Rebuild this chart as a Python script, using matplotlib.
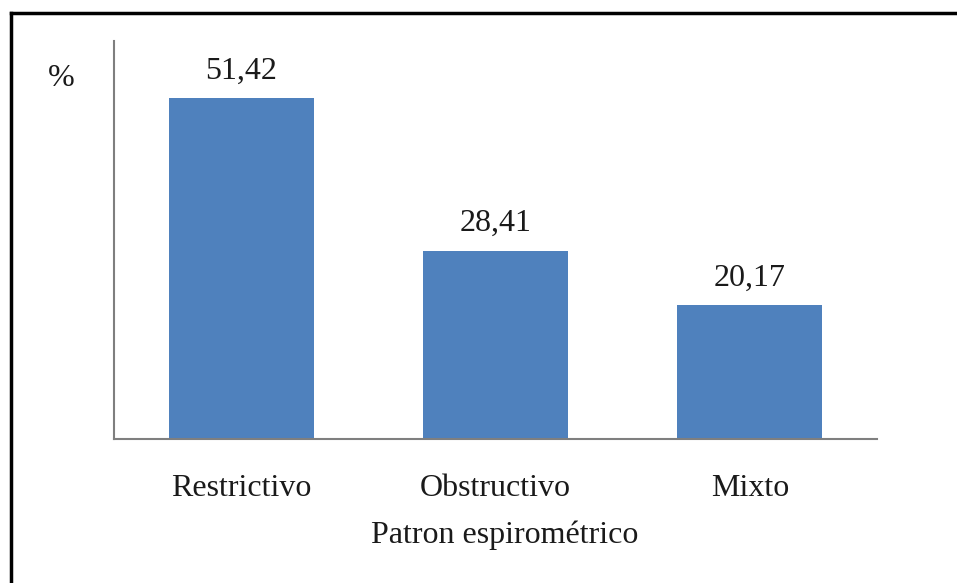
import matplotlib.pyplot as plt
from matplotlib.lines import Line2D

categories = ["Restrictivo", "Obstructivo", "Mixto"]
percentages = [51.42, 28.41, 20.17]

plt.rcParams['font.family'] = ['Liberation Serif', 'DejaVu Serif']

fig = plt.figure(figsize=(9.57, 5.83), dpi=100)
ax = fig.add_axes([0.1191, 0.247, 0.7973, 0.6827])

bars = ax.bar(categories, percentages, width=0.57, color="#4F81BD")
ax.bar_label(bars, labels=[f"{v:.2f}".replace(".", ",") for v in percentages],
             padding=9, fontsize=23, color="#1a1a1a")

ax.set_xlim(-0.5, 2.5)
ax.set_ylim(0, 60)
ax.set_yticks([])
ax.tick_params(axis="x", length=0, pad=25, labelsize=23, labelcolor="#1a1a1a")
for side in ("top", "right"):
    ax.spines[side].set_visible(False)
for side in ("left", "bottom"):
    ax.spines[side].set_color("#7f7f7f")
    ax.spines[side].set_linewidth(1.5)

ax.set_xlabel("Patron espirométrico", fontsize=23, color="#1a1a1a")
ax.xaxis.set_label_coords(0.512, -0.243)
ax.xaxis.label.set_va("center")

fig.text(61 / 957, 1 - 78 / 583, "%", fontsize=23, ha="center", va="center",
         color="#1a1a1a")

# frame drawn along the top and left edges
fig.add_artist(Line2D([10.5 / 957, 1], [1 - 12.5 / 583] * 2, color="black", lw=2.5))
fig.add_artist(Line2D([10.5 / 957] * 2, [0, 1 - 12.5 / 583], color="black", lw=2.5))

fig.savefig("out.png", dpi=100)
